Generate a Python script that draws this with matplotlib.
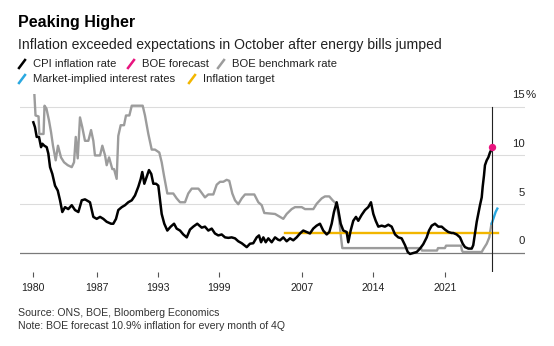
import matplotlib
matplotlib.use('Agg')
import matplotlib.pyplot as plt
from matplotlib.lines import Line2D

plt.rcParams['font.family'] = ['Liberation Sans', 'DejaVu Sans']

# CPI inflation rate, % y/y (decimal years)
cpi_years = [1980.73, 1980.88, 1981.04, 1981.25, 1981.44, 1981.56, 1981.74, 1981.96, 1982.11, 1982.27,
             1982.48, 1982.73, 1982.98, 1983.19, 1983.40, 1983.65, 1983.95, 1984.27, 1984.57, 1984.88,
             1985.19, 1985.49, 1985.95, 1986.26, 1986.57, 1986.88, 1987.18, 1987.49, 1987.89, 1988.10,
             1988.35, 1988.56, 1988.88, 1989.18, 1989.48, 1989.80, 1990.10, 1990.41, 1990.63, 1990.77,
             1990.96, 1991.18, 1991.39, 1991.60, 1991.79, 1992.04, 1992.25, 1992.41, 1992.56, 1992.80,
             1993.08, 1993.39, 1993.70, 1993.94, 1994.25, 1994.55, 1994.87, 1995.17, 1995.47, 1995.84,
             1996.25, 1996.55, 1996.86, 1997.17, 1997.47, 1997.78, 1998.09, 1998.40, 1998.70, 1999.01,
             1999.32, 1999.62, 1999.94, 2000.40, 2000.70, 2001.00, 2001.32, 2001.53, 2001.72, 2001.93,
             2002.15, 2002.39, 2002.70, 2003.01, 2003.31, 2003.47, 2003.77, 2004.08, 2004.39, 2004.69,
             2005.00, 2005.31, 2005.61, 2005.92, 2006.23, 2006.53, 2006.84, 2007.15, 2007.45, 2007.77,
             2008.01, 2008.23, 2008.44, 2008.69, 2008.84, 2009.06, 2009.30, 2009.61, 2009.76, 2009.98,
             2010.22, 2010.47, 2010.68, 2010.99, 2011.30, 2011.60, 2011.85, 2012.07, 2012.29, 2012.53,
             2012.84, 2013.14, 2013.45, 2013.76, 2014.07, 2014.37, 2014.68, 2014.99, 2015.24, 2015.45,
             2015.75, 2016.07, 2016.37, 2016.67, 2016.99, 2017.20, 2017.45, 2017.75, 2018.06, 2018.37,
             2018.67, 2018.98, 2019.29, 2019.44, 2019.75, 2020.06, 2020.31, 2020.52, 2020.83, 2021.14,
             2021.28, 2021.44, 2021.60, 2021.74, 2021.90, 2022.06, 2022.15, 2022.27, 2022.36, 2022.52,
             2022.67, 2022.82, 2022.91]
cpi = [13.4, 12.9, 11.9, 11.9, 10.85, 11.2, 11.0, 10.85, 10.2, 8.8,
       8.1, 6.9, 6.4, 5.4, 4.2, 4.7, 4.5, 4.9, 4.4, 4.2,
       5.4, 5.5, 5.2, 3.7, 3.5, 3.7, 3.5, 3.2, 3.0, 3.0,
       3.5, 4.4, 4.7, 4.9, 5.2, 5.4, 5.9, 6.8, 7.6, 8.3,
       7.1, 7.8, 8.5, 8.1, 7.1, 7.1, 6.9, 5.4, 4.0, 3.0,
       2.3, 2.7, 3.0, 2.5, 2.3, 1.9, 1.6, 2.4, 2.7, 3.0,
       2.6, 2.7, 2.3, 2.5, 2.0, 1.8, 1.9, 1.6, 1.55, 1.6,
       1.5, 1.2, 1.0, 0.6, 0.95, 1.0, 1.6, 1.8, 1.1, 1.6,
       1.1, 1.5, 1.1, 1.6, 1.35, 1.3, 1.6, 1.2, 1.5, 1.3,
       1.6, 2.0, 2.3, 2.15, 2.0, 2.5, 2.8, 3.0, 2.3, 1.9,
       2.15, 3.0, 4.2, 5.2, 4.4, 3.0, 2.3, 2.15, 1.1, 2.3,
       3.3, 3.7, 3.3, 3.9, 4.4, 4.7, 5.2, 4.0, 3.3, 2.7,
       2.8, 2.7, 2.9, 2.7, 1.9, 1.6, 1.5, 0.8, 0.1, -0.1,
       0.0, 0.1, 0.45, 0.9, 1.6, 2.3, 2.8, 3.0, 2.7, 2.7,
       2.4, 2.15, 2.05, 2.05, 1.9, 1.6, 0.95, 0.6, 0.45, 0.45,
       0.8, 2.0, 3.2, 4.0, 4.9, 5.7, 6.8, 7.95, 9.0, 9.5,
       9.8, 10.3, 10.5]

# BOE benchmark rate, %
bank_years = [1980.79, 1980.93, 1981.21, 1981.28, 1981.67, 1981.76, 1981.94, 1982.17, 1982.36, 1982.54,
              1982.79, 1983.00, 1983.28, 1983.56, 1983.90, 1984.27, 1984.48, 1984.64, 1984.82, 1985.03,
              1985.24, 1985.49, 1985.80, 1986.05, 1986.26, 1986.41, 1986.88, 1987.09, 1987.34, 1987.49,
              1987.71, 1988.01, 1988.17, 1988.41, 1988.56, 1988.78, 1989.09, 1989.27, 1989.58, 1989.80,
              1990.81, 1991.02, 1991.33, 1991.64, 1991.94, 1992.34, 1992.56, 1992.77, 1993.08, 1993.63,
              1993.94, 1994.25, 1994.71, 1995.01, 1995.33, 1995.94, 1996.09, 1996.55, 1996.86, 1997.32,
              1997.63, 1997.94, 1998.24, 1998.55, 1998.79, 1999.07, 1999.32, 1999.62, 1999.94, 2000.24,
              2001.10, 2001.47, 2001.78, 2002.02, 2003.01, 2003.47, 2003.77, 2004.08, 2004.54, 2004.85,
              2005.47, 2005.77, 2006.54, 2006.85, 2007.31, 2007.61, 2008.01, 2008.32, 2008.69, 2008.93,
              2009.09, 2009.21, 2016.46, 2016.55, 2017.94, 2018.03, 2018.67, 2018.77, 2020.15, 2020.24,
              2020.33, 2022.06, 2022.21, 2022.52, 2022.76, 2022.96]
bank_rate = [17.0, 14.1, 14.0, 12.2, 12.2, 15.1, 14.8, 13.6, 12.4, 11.0,
             9.5, 11.0, 9.8, 9.3, 9.0, 8.8, 9.3, 11.9, 9.7, 13.9,
             12.9, 11.5, 11.5, 12.6, 11.5, 10.0, 10.0, 11.0, 10.0, 9.0,
             9.8, 8.6, 8.6, 7.6, 12.0, 13.1, 13.1, 14.1, 14.1, 15.1,
             15.1, 14.1, 12.2, 10.6, 10.6, 10.3, 9.3, 7.95, 6.1, 6.1,
             5.6, 5.2, 5.2, 6.1, 6.6, 6.6, 6.4, 5.7, 6.0, 6.0,
             7.0, 7.3, 7.3, 7.5, 7.4, 6.1, 5.4, 5.0, 5.6, 6.0,
             6.0, 5.2, 4.9, 4.1, 4.0, 3.7, 3.5, 4.0, 4.5, 4.7,
             4.7, 4.5, 4.5, 5.05, 5.6, 5.8, 5.8, 5.4, 5.0, 3.3,
             1.6, 0.5, 0.5, 0.25, 0.25, 0.5, 0.5, 0.75, 0.75, 0.25,
             0.1, 0.1, 0.4, 0.95, 1.6, 3.0]

# Market-implied interest rates, %
market_years = [2022.98, 2023.16, 2023.34, 2023.50]
market = [3.0, 3.6, 4.2, 4.55]

# Inflation target
target_years = [2003.93, 2023.56]
target = [2.0, 2.0]

# BOE forecast for 4Q
forecast_year = 2023.0
forecast = 10.9

tick_years = [1980.70, 1986.60, 1992.22, 1997.84, 2005.49, 2012.04, 2018.67]
tick_labels = ['1980', '1987', '1993', '1999', '2007', '2014', '2021']
y_levels = [0, 5, 10, 15]

W, H = 554, 346
fig = plt.figure(figsize=(W / 100, H / 100), dpi=100)
ax = fig.add_axes([20 / W, 1 - 272 / H, 505 / W, 178 / H])
ymin, ymax = -1.95, 16.3
ax.set_xlim(1979.50, 2026.05)
ax.set_ylim(ymin, ymax)

for v in y_levels[1:]:
    ax.axhline(v, color='#dcdcdc', lw=0.8, zorder=1)
ax.axhline(0, color='#7a7a7a', lw=0.9, zorder=1)

ax.plot(bank_years, bank_rate, color='#9c9c9c', lw=1.7, zorder=2)
ax.plot(target_years, target, color='#f2b600', lw=1.7, zorder=3)
ax.plot(cpi_years, cpi, color='black', lw=1.8, zorder=4)
ax.plot(market_years, market, color='#2aa8e0', lw=1.7, zorder=4)
ax.axvline(forecast_year, ymin=0, ymax=(15 - ymin) / (ymax - ymin), color='#222222', lw=0.8, zorder=5)
ax.scatter([forecast_year], [forecast], color='#e8147e', s=28, zorder=6, linewidths=0)

for s in ax.spines.values():
    s.set_visible(False)
ax.set_yticks([])
ax.set_xticks(tick_years, tick_labels)
ax.tick_params(axis='x', length=3.6, width=0.8, color='#555555', pad=4,
               labelsize=7.6, labelcolor='#222222')

for v in y_levels:
    ax.annotate(str(v), xy=(1, v), xycoords=('axes fraction', 'data'), xytext=(0, 11.5),
                textcoords='offset pixels', ha='right', va='center', fontsize=8.2, color='#222222')
ax.annotate('%', xy=(1, 15), xycoords=('axes fraction', 'data'), xytext=(0.5, 11.5),
            textcoords='offset pixels', ha='left', va='center', fontsize=8.2, color='#222222')


def fx(px):
    return px / W


def fy(py):
    return 1 - py / H


fig.text(fx(18), fy(23), 'Peaking Higher', fontsize=11.5, fontweight='bold', va='center', color='black')
fig.text(fx(18), fy(45), 'Inflation exceeded expectations in October after energy bills jumped',
         fontsize=10.1, va='center', color='#222222')

legend = [('CPI inflation rate', 'black', 18, 64),
          ('BOE forecast', '#e8147e', 127, 64),
          ('BOE benchmark rate', '#9c9c9c', 217, 64),
          ('Market-implied interest rates', '#2aa8e0', 18, 79),
          ('Inflation target', '#f2b600', 188, 79)]
for label, color, x0, yc in legend:
    fig.add_artist(Line2D([fx(x0 + 1), fx(x0 + 7)], [fy(yc + 4), fy(yc - 4)], color=color, lw=1.8))
    fig.text(fx(x0 + 15), fy(yc), label, fontsize=8.1, va='center', color='#222222')

fig.text(fx(18), fy(313), 'Source: ONS, BOE, Bloomberg Economics', fontsize=7.6, va='center', color='#333333')
fig.text(fx(18), fy(326), 'Note: BOE forecast 10.9% inflation for every month of 4Q', fontsize=7.6,
         va='center', color='#333333')

fig.savefig('out.png', dpi=100)
